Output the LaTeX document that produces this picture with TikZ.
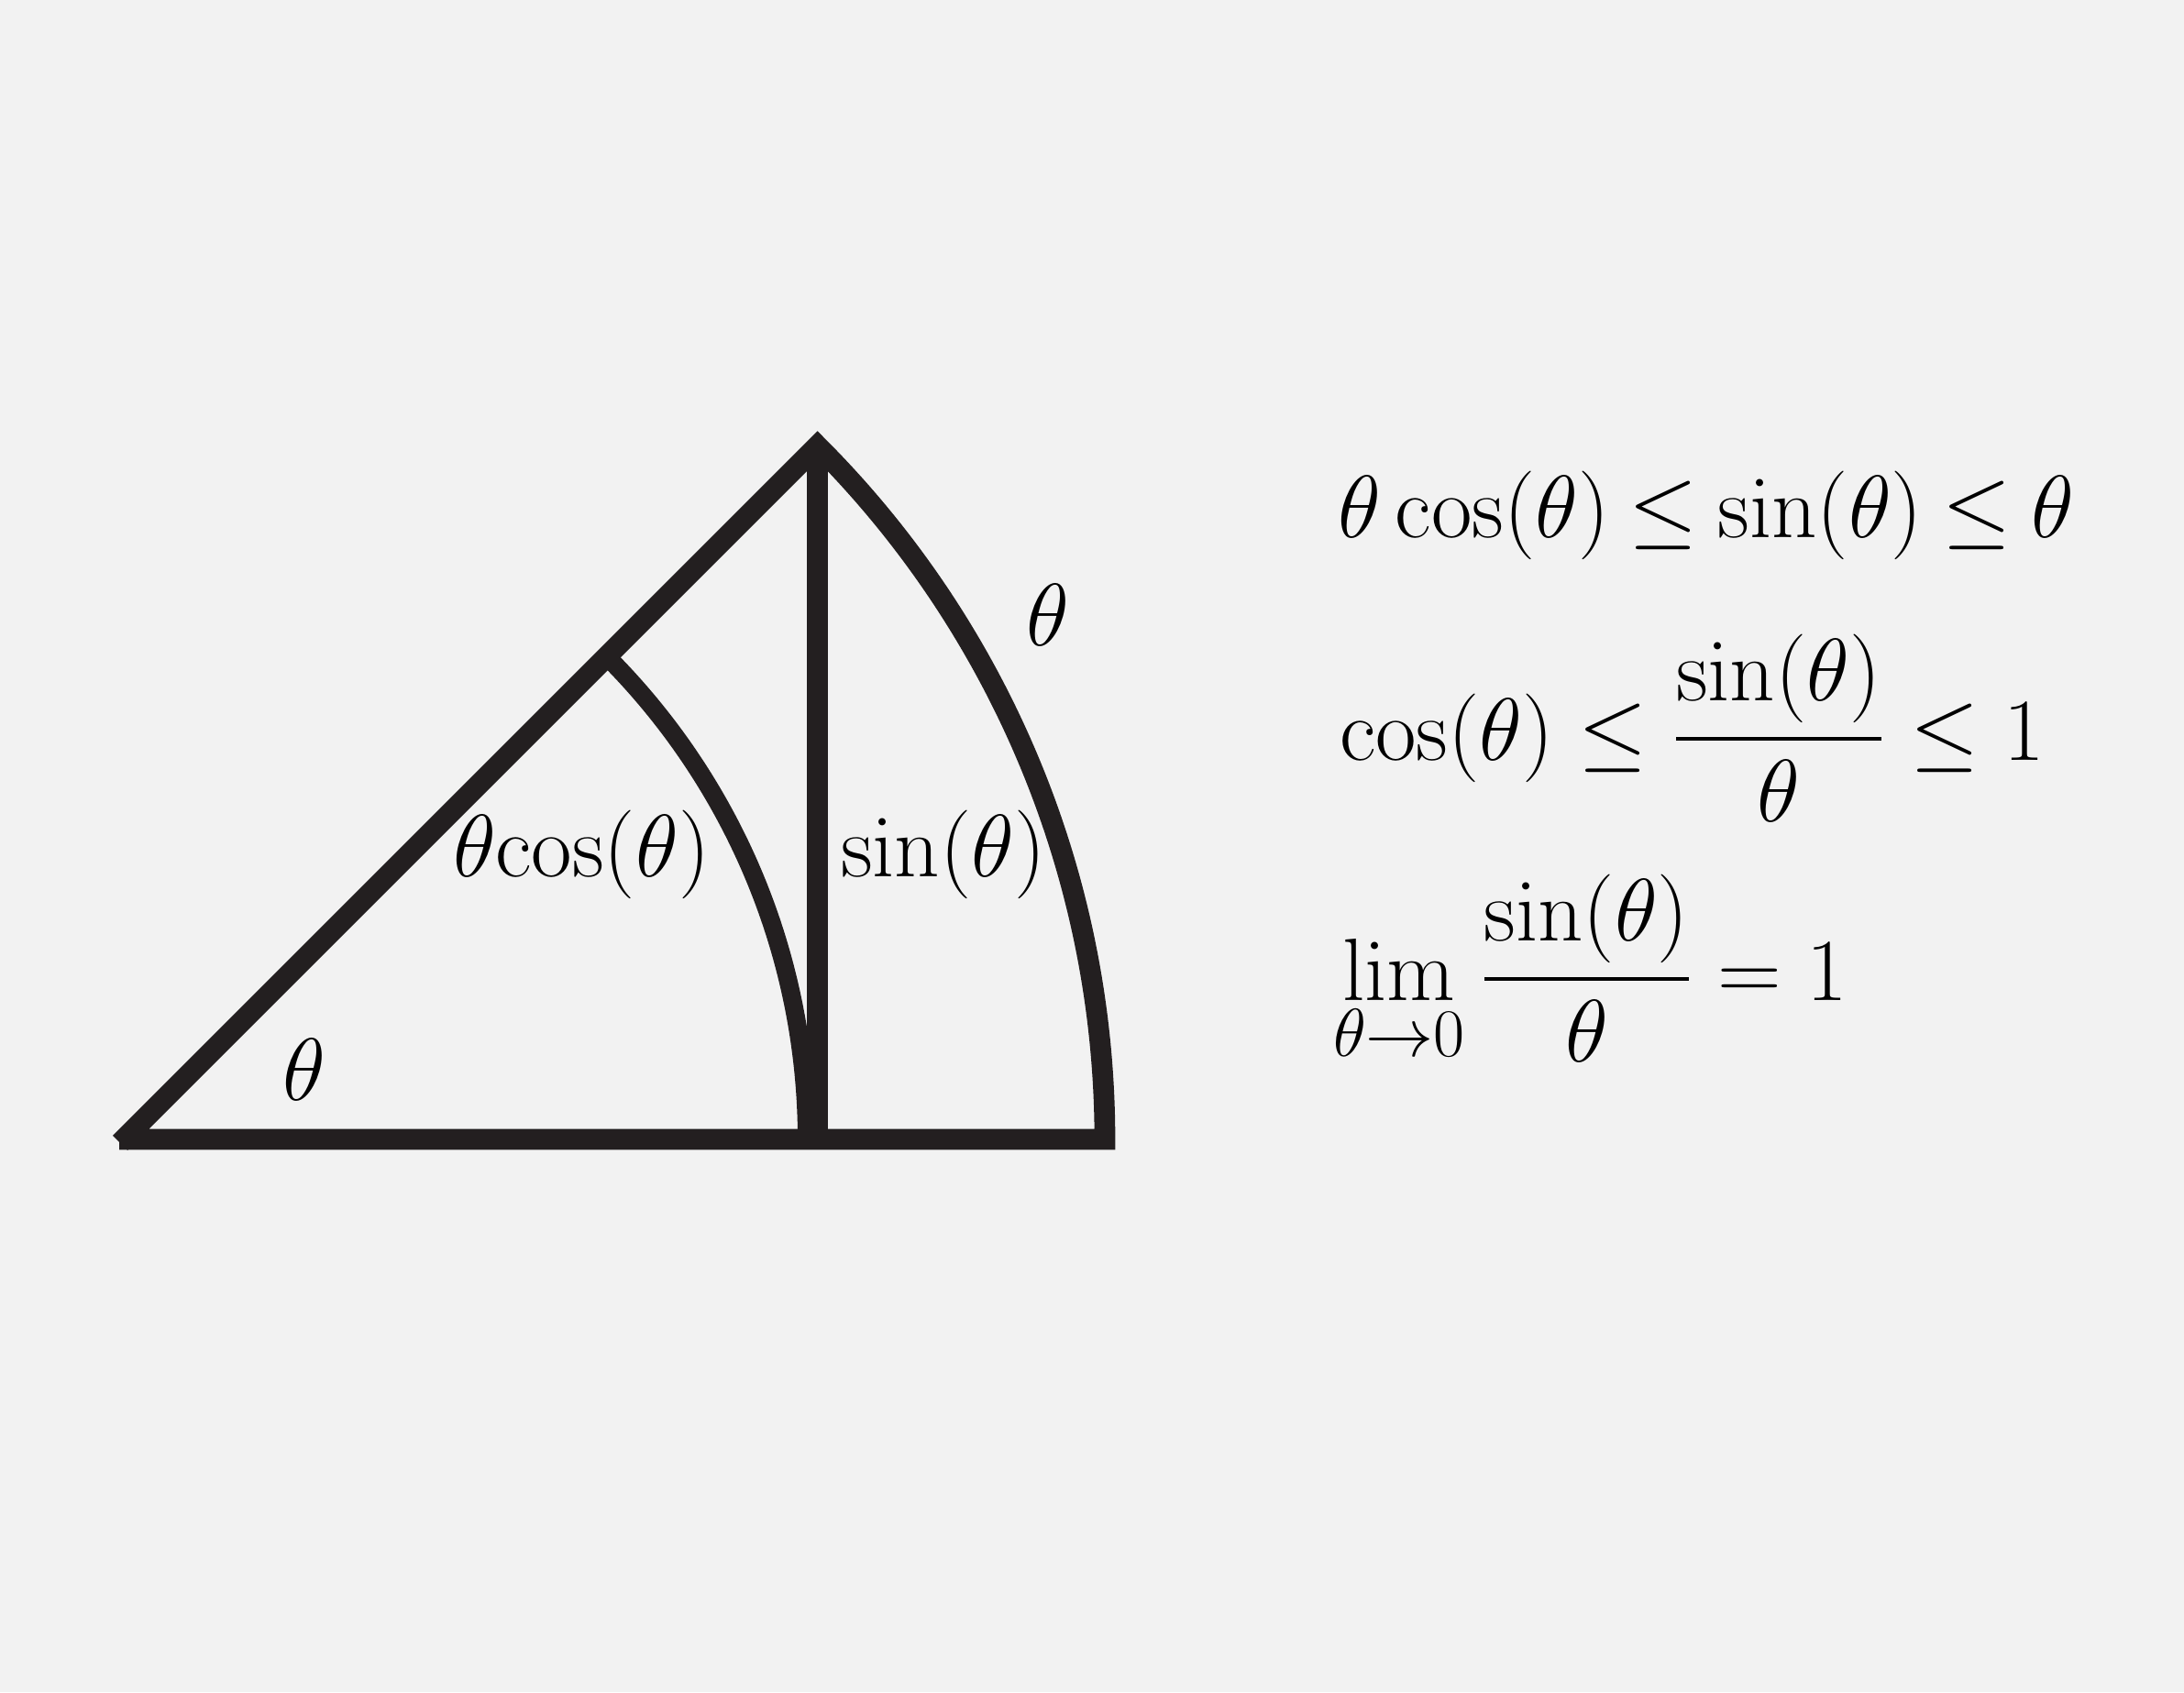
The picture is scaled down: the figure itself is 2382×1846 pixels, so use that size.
\documentclass[tikz,border=0pt]{standalone}
\usepackage{amsmath}
\usepackage{graphicx}
\definecolor{bgcol}{HTML}{F2F2F2}
\definecolor{inkcol}{HTML}{231F20}
\newcommand{\bigtxt}[1]{\scalebox{1.1656}{\fontsize{24.88}{30}\selectfont #1}}
\newcommand{\limsub}{\mathop{\vtop{\baselineskip=15.7pt\lineskiplimit=-30pt\lineskip=0pt
  \halign{\hfil##\hfil\cr$\mathrm{lim}$\cr\scalebox{0.92}{$\scriptstyle\theta\to 0$}\cr}}}}
\begin{document}
\begin{tikzpicture}[x=0.3pt,y=0.3pt,
  edge/.style={draw=inkcol,line width=6.8pt,line cap=butt},
  thinedge/.style={draw=inkcol,line width=6.0pt,line cap=butt},
  lbl/.style={inner sep=0pt,outer sep=0pt,text=black},
  eqn/.style={inner sep=0pt,outer sep=0pt,text=black,anchor=base west}]
\fill[bgcol] (0,0) rectangle (2382,1846);
\useasboundingbox (0,0) rectangle (2382,1846);
% geometry
\coordinate (O) at (135,603);
\coordinate (Ol) at (130,603);
\coordinate (Od) at (131,599);
\coordinate (A) at (891.6,1359.6);
\coordinate (B) at (1205,603);
\coordinate (F) at (891.6,603);
\coordinate (C) at (661.8,1129.8);
% outline: diagonal + outer arc + base
\draw[edge,line join=miter] (Od) -- (A) arc[start angle=45,end angle=0,radius=1070] -- (Ol);
% vertical sine line
\draw[edge] (A) -- (F);
% inner arc
\draw[thinedge] (C) arc[start angle=45,end angle=0,radius=745];
% labels
\node[lbl] (t1) at (332,679) {\bigtxt{$\theta$}};
\node[lbl] (t2) at (1143,1175) {\bigtxt{$\theta$}};
\node[lbl,anchor=base west] (tc) at (494,889) {\bigtxt{$\theta\mathrm{cos}(\theta)$}};
\node[lbl,anchor=base west] (ts) at (917,889) {\bigtxt{$\sin(\theta)$}};
% equations
\node[eqn] (e1) at (1459,1259) {\bigtxt{$\thickmuskip=4mu\displaystyle \theta\cos(\theta)\leq\sin(\theta)\leq\theta$}};
\node[eqn] (e2) at (1461,1016) {\bigtxt{$\displaystyle \cos(\theta)\leq\frac{\sin(\theta)}{\theta}\leq 1$}};
\node[eqn] (e3) at (1454,754) {\bigtxt{$\displaystyle \limsub\frac{\sin(\theta)}{\theta}=1$}};
\end{tikzpicture}
\end{document}
